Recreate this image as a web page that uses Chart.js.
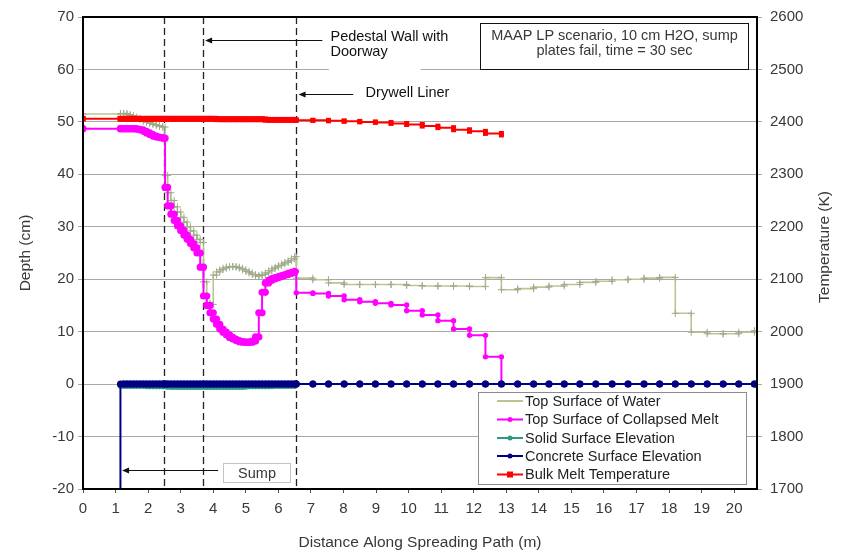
<!DOCTYPE html>
<html>
<head>
<meta charset="utf-8">
<script src="https://cdn.jsdelivr.net/npm/chart.js@4/dist/chart.umd.min.js"></script>
<style>
html,body{margin:0;padding:0;background:#fff;}
#wrap{width:845px;height:556px;}
</style>
</head>
<body>
<div id="wrap"><canvas id="c" width="845" height="556"></canvas></div>
<script>
// ---- DATA ----
const nodeX = [0,
  1.15,1.25,1.35,1.45,1.55,1.65,1.75,1.85,1.95,2.05,2.15,2.25,2.35,2.45,2.52,
  2.6,2.7,2.8,2.9,3.0,3.1,3.2,3.3,3.4,3.5,3.6,3.7,3.8,3.9,4.0,4.1,4.2,4.3,4.4,4.5,4.6,4.7,4.8,4.9,
  5.0,5.1,5.2,5.3,5.4,5.5,5.6,5.7,5.8,5.9,6.0,6.1,6.2,6.3,6.4,6.5,
  6.55,7.06,7.54,8.02,8.5,8.98,9.46,9.94,10.42,10.9,11.38,11.87,12.36,12.85,13.35,13.84,14.31,14.78,15.26,15.75,
  16.25,16.74,17.23,17.71,18.19,18.68,19.17,19.66,20.14,20.62];

const waterDepth = [51.5,
  51.6,51.6,51.4,51.2,50.9,50.7,50.4,50.1,49.9,49.7,49.5,49.3,49.1,49.0,39.8,
  36.5,35.0,33.8,32.8,31.8,30.9,30.0,29.2,28.4,27.6,27.0,19.5,15.5,15.2,20.8,21.4,21.8,22.1,22.3,22.4,22.4,22.3,22.1,21.8,
  21.5,21.2,20.9,20.6,20.7,20.9,21.2,21.6,22.0,22.3,22.6,22.9,23.2,23.5,23.9,24.3,
  20.2,19.9,19.3,19.0,19.0,19.0,19.0,18.8,18.7,18.7,18.7,18.6,20.3,18.0,18.2,18.5,18.7,19.0,19.4,19.6,
  19.9,20.0,20.2,20.35,13.5,9.9,9.6,9.6,9.9,10.2];

const meltDepth = [48.7,
  48.7,48.7,48.7,48.7,48.7,48.6,48.5,48.2,47.9,47.6,47.3,47.1,47.0,46.9,37.5,
  34.0,32.4,31.2,30.2,29.3,28.4,27.6,26.8,26.0,25.0,22.3,16.8,15.0,13.6,12.4,11.4,10.5,9.9,9.4,8.9,8.6,8.3,8.1,8.0,
  8.0,8.0,8.2,9.0,13.6,17.5,19.3,19.8,20.1,20.3,20.5,20.7,20.9,21.1,21.3,21.5,
  17.4,17.3,16.8,16.1,15.7,15.4,15.1,14.0,13.2,12.1,10.5,9.3,5.2,0,null,null,null,null,null,null,
  null,null,null,null,null,null,null,null,null,null];

const solidDepth = [null,
  -0.3,-0.3,-0.3,-0.3,-0.3,-0.3,-0.3,-0.3,-0.4,-0.4,-0.4,-0.4,-0.4,-0.4,-0.4,
  -0.5,-0.5,-0.5,-0.5,-0.5,-0.5,-0.5,-0.5,-0.5,-0.5,-0.5,-0.5,-0.5,-0.5,-0.5,-0.5,-0.5,-0.5,-0.5,-0.5,-0.5,-0.5,-0.5,-0.5,
  -0.4,-0.4,-0.4,-0.4,-0.4,-0.4,-0.4,-0.4,-0.3,-0.3,-0.3,-0.3,-0.3,-0.3,-0.3,-0.3,
  null,null,null,null,null,null,null,null,null,null,null,null,null,null,null,null,null,null,null,null,
  null,null,null,null,null,null,null,null,null,null];

const concreteDepth = [-20,
  0,0,0,0,0,0,0,0,0,0,0,0,0,0,0,
  0,0,0,0,0,0,0,0,0,0,0,0,0,0,0,0,0,0,0,0,0,0,0,0,
  0,0,0,0,0,0,0,0,0,0,0,0,0,0,0,0,
  0,0,0,0,0,0,0,0,0,0,0,0,0,0,0,0,0,0,0,0,
  0,0,0,0,0,0,0,0,0,0];

const meltTemp = [2406,
  2406,2406,2406,2406,2406,2406,2406,2406,2406,2406,2406,2406,2406,2406,2406,
  2406,2406,2406,2406,2406,2406,2406,2406,2406,2406,2406,2406,2406,2406,2406,2405,2405,2405,2405,2405,2405,2405,2405,2405,
  2405,2405,2405,2405,2405,2405,2404,2404,2404,2404,2404,2404,2404,2404,2404,2404,
  2403,2403,2402,2401,2400,2399,2397,2395,2392,2389,2385,2382,2378,2375,null,null,null,null,null,null,
  null,null,null,null,null,null,null,null,null,null];

const seriesNames = ['Top Surface of Water','Top Surface of Collapsed Melt','Solid Surface Elevation','Concrete Surface Elevation','Bulk Melt Temperature'];
const xTicks = [0,1,2,3,4,5,6,7,8,9,10,11,12,13,14,15,16,17,18,19,20];
const depthTicks = [-20,-10,0,10,20,30,40,50,60,70];
const tempTicks = [1700,1800,1900,2000,2100,2200,2300,2400,2500,2600];
const wallLines = [2.5, 3.7, 6.55];

// ---- helpers ----
function stairs(xs, ys){
  const out=[];
  for(let i=0;i<xs.length;i++){
    if(ys[i]==null) continue;
    out.push({x:xs[i],y:ys[i]});
    if(i+1<xs.length && ys[i+1]!=null) out.push({x:xs[i+1],y:ys[i]});
  }
  return out;
}
const FONT = "'Liberation Sans', Arial, sans-serif";
const TXT = '#383838';

const colors = {
  water:'#bcc592', waterPt:'#9fab8a', melt:'#ff00ff', solid:'#2e9a86', concrete:'#000080', temp:'#ff0000'
};
const denseEnd = 6.5;
const rad = (inner, outer) => (c)=> (c.raw && c.raw.x<=denseEnd) ? inner : outer;

const overlay = {
  id:'overlay',
  beforeDatasetsDraw(chart){
    const {ctx, chartArea:a, scales:{x,y}} = chart;
    ctx.save();
    ctx.fillStyle='#fff';
    ctx.fillRect(x.getPixelForValue(7.55), y.getPixelForValue(68.2), x.getPixelForValue(10.37)-x.getPixelForValue(7.55), y.getPixelForValue(59.0)-y.getPixelForValue(68.2));
    ctx.strokeStyle='#222'; ctx.lineWidth=1.3; ctx.setLineDash([7,4]);
    wallLines.forEach(v=>{
      const px=Math.round(x.getPixelForValue(v))+0.5;
      ctx.beginPath(); ctx.moveTo(px,a.top); ctx.lineTo(px,a.bottom); ctx.stroke();
    });
    ctx.restore();
  },
  afterDraw(chart){
    const {ctx, chartArea:a, scales:{x,y}} = chart;
    const X=v=>x.getPixelForValue(v), Y=v=>y.getPixelForValue(v);
    ctx.save();
    ctx.strokeStyle='#000'; ctx.lineWidth=2; ctx.setLineDash([]);
    ctx.strokeRect(a.left,a.top,a.right-a.left,a.bottom-a.top);

    function arrow(x1,x2,yy){
      const px1=X(x1), px2=X(x2), py=Math.round(Y(yy))+0.5;
      ctx.strokeStyle='#111'; ctx.lineWidth=1;
      ctx.beginPath(); ctx.moveTo(px1,py); ctx.lineTo(px2+4,py); ctx.stroke();
      ctx.fillStyle='#111';
      ctx.beginPath(); ctx.moveTo(px2,py); ctx.lineTo(px2+7,py-3); ctx.lineTo(px2+7,py+3); ctx.closePath(); ctx.fill();
    }
    ctx.font = '14.5px '+FONT; ctx.fillStyle=TXT; ctx.textBaseline='middle'; ctx.textAlign='left';
    arrow(7.35,3.75,65.7);
    ctx.fillText('Pedestal Wall with', X(7.6), Y(66.1));
    ctx.fillText('Doorway', X(7.6), Y(63.4));
    arrow(8.3,6.62,55.4);
    ctx.fillText('Drywell Liner', X(8.68), Y(55.5));
    arrow(4.15,1.2,-16.4);
    ctx.strokeStyle='#c4c4c4'; ctx.lineWidth=1;
    const sx1=Math.round(X(4.3))+0.5, sx2=Math.round(X(6.37))+0.5, sy1=Math.round(Y(-15.1))+0.5, sy2=Math.round(Y(-18.7))+0.5;
    ctx.fillStyle='#fff'; ctx.fillRect(sx1,sy1,sx2-sx1,sy2-sy1);
    ctx.strokeRect(sx1,sy1,sx2-sx1,sy2-sy1);
    ctx.fillStyle=TXT; ctx.textAlign='center';
    ctx.fillText('Sump',(sx1+sx2)/2,(sy1+sy2)/2+1);
    const mx1=Math.round(X(12.18))+0.5, mx2=Math.round(X(20.43))+0.5, my1=Math.round(Y(68.9))+0.5, my2=Math.round(Y(60.1))+0.5;
    ctx.fillStyle='#fff'; ctx.fillRect(mx1,my1,mx2-mx1,my2-my1);
    ctx.strokeStyle='#111'; ctx.lineWidth=1; ctx.strokeRect(mx1,my1,mx2-mx1,my2-my1);
    ctx.fillStyle=TXT; ctx.textAlign='center';
    ctx.fillText('MAAP LP scenario, 10 cm H2O, sump',(mx1+mx2)/2, Y(66.4));
    ctx.fillText('plates fail, time = 30 sec',(mx1+mx2)/2, Y(63.5));

    // Legend
    const lx1=478.5, lx2=746.5, ly1=392.5, ly2=484.5;
    ctx.fillStyle='#fff'; ctx.fillRect(lx1,ly1,lx2-lx1,ly2-ly1);
    ctx.strokeStyle='#8c8c8c'; ctx.lineWidth=1; ctx.strokeRect(lx1,ly1,lx2-lx1,ly2-ly1);
    const ds = chart.data.datasets;
    const rowY=[401,419.5,438,456,474.5];
    ctx.font='14.5px '+FONT; ctx.textAlign='left';
    ds.forEach((d,i)=>{
      const yy=rowY[i];
      ctx.strokeStyle=d.borderColor; ctx.lineWidth=2;
      ctx.beginPath(); ctx.moveTo(497,yy); ctx.lineTo(523,yy); ctx.stroke();
      if(i>0){
        ctx.fillStyle=d.borderColor;
        if(i===4){ ctx.fillRect(507,yy-3,6,6); }
        else { ctx.beginPath(); ctx.arc(510,yy,2.5,0,Math.PI*2); ctx.fill(); }
      }
      ctx.fillStyle='#222'; ctx.textBaseline='middle';
      ctx.fillText(d.label,525,yy+0.5);
    });

    ctx.fillStyle=TXT; ctx.font='15.5px '+FONT; ctx.textAlign='center'; ctx.textBaseline='middle';
    ctx.fillText('Distance Along Spreading Path (m)', (a.left+a.right)/2, 543);
    const cy=(a.top+a.bottom)/2;
    ctx.save(); ctx.translate(26,cy); ctx.rotate(-Math.PI/2); ctx.fillText('Depth (cm)',0,0); ctx.restore();
    ctx.save(); ctx.translate(825,cy-6); ctx.rotate(-Math.PI/2); ctx.fillText('Temperature (K)',0,0); ctx.restore();
    ctx.restore();
  }
};

const tickFont = {family:FONT, size:15};
const plain = v => String(v);

new Chart(document.getElementById('c'), {
  type:'scatter',
  data:{
    datasets:[
      {label:seriesNames[0], data:stairs(nodeX,waterDepth), showLine:true, borderColor:colors.water, borderWidth:1.6,
       pointStyle:'cross', pointRadius:3.5, pointBorderColor:colors.waterPt, pointBackgroundColor:colors.waterPt, pointBorderWidth:1, yAxisID:'y', order:5},
      {label:seriesNames[1], data:stairs(nodeX,meltDepth), showLine:true, borderColor:colors.melt, backgroundColor:colors.melt, borderWidth:2,
       pointStyle:'circle', pointRadius:rad(3.6,2.7), pointBorderWidth:0, yAxisID:'y', order:2},
      {label:seriesNames[2], data:stairs(nodeX,solidDepth), showLine:true, borderColor:colors.solid, backgroundColor:colors.solid, borderWidth:2,
       pointStyle:'circle', pointRadius:3, pointBorderWidth:0, yAxisID:'y', order:4},
      {label:seriesNames[3], data:stairs(nodeX,concreteDepth), showLine:true, borderColor:colors.concrete, backgroundColor:colors.concrete, borderWidth:2,
       pointStyle:'circle', pointRadius:(c)=> (c.raw && c.raw.y<=-20) ? 0 : 3.5, pointBorderWidth:0, yAxisID:'y', order:1},
      {label:seriesNames[4], data:stairs(nodeX,meltTemp), showLine:true, borderColor:colors.temp, backgroundColor:colors.temp, borderWidth:2,
       pointStyle:'rect', pointRadius:rad(4,3.5), pointBorderWidth:0, yAxisID:'y2', order:0}
    ]
  },
  options:{
    responsive:false, animation:false, devicePixelRatio:1,
    layout:{padding:{top:10,left:0,right:0,bottom:0}},
    plugins:{legend:{display:false}, tooltip:{enabled:false}},
    scales:{
      x:{type:'linear', min:0, max:20.7,
         afterBuildTicks:s=>{ s.ticks = xTicks.map(v=>({value:v})); },
         ticks:{font:tickFont, color:TXT, padding:7, maxRotation:0, autoSkip:false, callback:plain},
         grid:{drawOnChartArea:false, color:'#555', tickLength:4},
         border:{display:false},
         afterFit:s=>{ s.height=67; }},
      y:{type:'linear', position:'left', min:-20, max:70,
         afterBuildTicks:s=>{ s.ticks = depthTicks.map(v=>({value:v})); },
         ticks:{font:tickFont, color:TXT, padding:4, callback:plain},
         grid:{color:'#a8a8a8', tickLength:5, lineWidth:1},
         border:{display:false},
         afterFit:s=>{ s.width=83; }},
      y2:{type:'linear', position:'right', min:1700, max:2600,
         afterBuildTicks:s=>{ s.ticks = tempTicks.map(v=>({value:v})); },
         ticks:{font:tickFont, color:TXT, padding:8, callback:plain},
         grid:{drawOnChartArea:false, color:'#a8a8a8', tickLength:5},
         border:{display:false},
         afterFit:s=>{ s.width=88; }}
    }
  },
  plugins:[overlay]
});
</script>
</body>
</html>
